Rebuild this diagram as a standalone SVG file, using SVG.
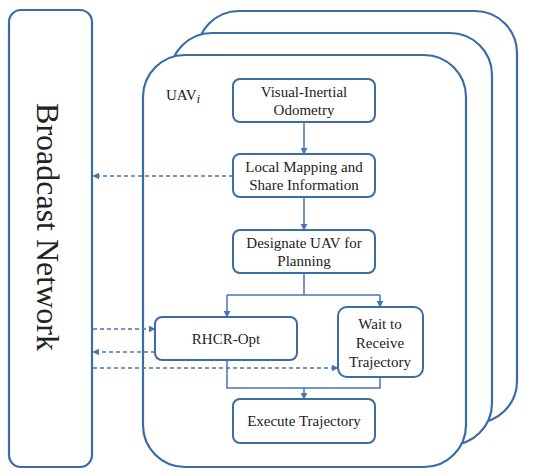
<svg xmlns="http://www.w3.org/2000/svg" width="550" height="476" viewBox="0 0 550 476">
<defs>
<style>
.frame{fill:#fff;stroke:#3a6ca6;stroke-width:2.2}
.node{fill:#fff;stroke:#3a6ca6;stroke-width:2}
.t{font-family:"Liberation Serif","Times New Roman",serif;font-size:15px;fill:#222;text-anchor:middle}
.c{fill:none;stroke:#4a72b8;stroke-width:1.5}
.d{fill:none;stroke:#4a72b8;stroke-width:1.5;stroke-dasharray:4,3}
</style>
<marker id="ah" viewBox="0 0 10 10" refX="9" refY="5" markerWidth="7" markerHeight="7" markerUnits="userSpaceOnUse" orient="auto">
<path d="M0,0 L10,5 L0,10 z" fill="#4a72b8"/>
</marker>
</defs>
<rect width="550" height="476" fill="#fff"/>
<g id="broadcast">
<rect class="frame" x="9" y="10" width="83" height="457" rx="12"/>
<text class="t" style="font-size:32px" transform="translate(37,227) rotate(90)">Broadcast Network</text>
</g>
<g id="uav-back">
<rect class="frame" x="197" y="11" width="320" height="412" rx="42"/>
</g>
<g id="uav-mid">
<rect class="frame" x="170" y="33" width="322" height="412" rx="42"/>
</g>
<g id="uav-front">
<rect class="frame" x="143" y="55" width="323" height="412" rx="42"/>
<text x="166" y="100" style="font-family:'Liberation Serif',serif;font-size:15px;fill:#222">UAV<tspan font-style="italic" dy="3" font-size="13">i</tspan></text>
</g>
<g id="vio">
<rect class="node" x="233" y="79" width="142" height="43" rx="7"/>
<text class="t" x="304" y="97">Visual-Inertial</text>
<text class="t" x="304" y="115">Odometry</text>
</g>
<g id="mapping">
<rect class="node" x="233" y="154" width="142" height="43" rx="7"/>
<text class="t" x="304" y="172">Local Mapping and</text>
<text class="t" x="304" y="190">Share Information</text>
</g>
<g id="designate">
<rect class="node" x="233" y="230" width="142" height="43" rx="7"/>
<text class="t" x="304" y="248">Designate UAV for</text>
<text class="t" x="304" y="266">Planning</text>
</g>
<g id="rhcr">
<rect class="node" x="155" y="317" width="142" height="43" rx="7"/>
<text class="t" x="226" y="344">RHCR-Opt</text>
</g>
<g id="wait">
<rect class="node" x="338" y="307" width="85" height="70" rx="9"/>
<text class="t" x="380" y="329">Wait to</text>
<text class="t" x="380" y="348">Receive</text>
<text class="t" x="380" y="367">Trajectory</text>
</g>
<g id="execute">
<rect class="node" x="233" y="399" width="142" height="44" rx="7"/>
<text class="t" x="304" y="426">Execute Trajectory</text>
</g>
<g id="connectors">
<path class="c" d="M304,122 V154" marker-end="url(#ah)"/>
<path class="c" d="M304,197 V230" marker-end="url(#ah)"/>
<path class="c" d="M304,273 V295"/>
<path class="c" d="M227,295 H380"/>
<path class="c" d="M227,295 V317" marker-end="url(#ah)"/>
<path class="c" d="M380,295 V307" marker-end="url(#ah)"/>
<path class="c" d="M227,360 V388 H380 V377"/>
<path class="c" d="M304,388 V399" marker-end="url(#ah)"/>
<path class="d" d="M233,176 H93" marker-end="url(#ah)"/>
<path class="d" d="M93,329 H155" marker-end="url(#ah)"/>
<path class="d" d="M155,352 H93" marker-end="url(#ah)"/>
<path class="d" d="M93,368 H338" marker-end="url(#ah)"/>
</g>
</svg>
